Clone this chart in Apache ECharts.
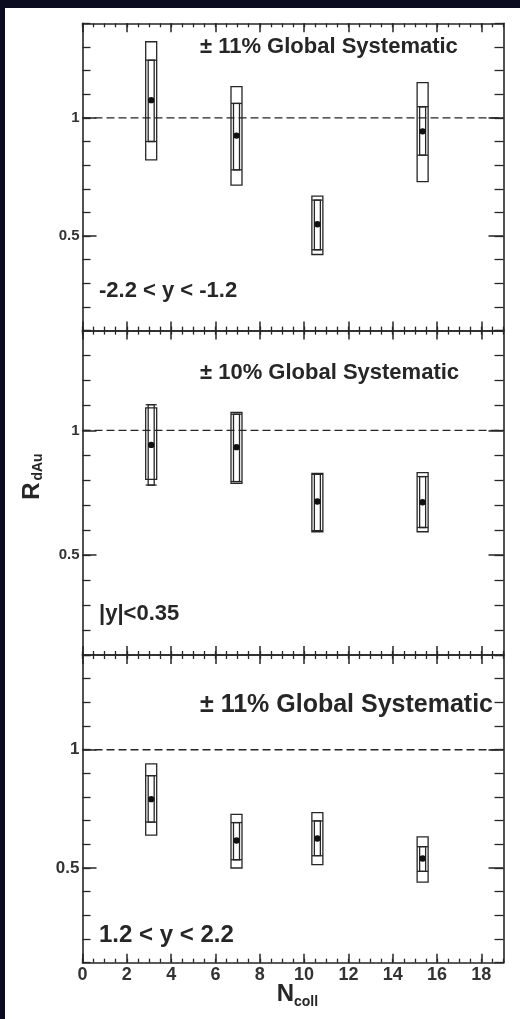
<!DOCTYPE html>
<html>
<head>
<meta charset="utf-8">
<script src="https://cdn.jsdelivr.net/npm/echarts@6/dist/echarts.min.js"></script>
<style>
  html, body { margin: 0; padding: 0; background: #0b0c20; }
  #paper { position: absolute; left: 5px; top: 8px; width: 515px; height: 1011px; background: #ffffff; }
  #chart { position: absolute; left: 0; top: 0; width: 520px; height: 1019px; }
</style>
</head>
<body>
<div id="paper"></div>
<div id="chart"></div>
<script>
// ---------------- data ----------------
const X_MIN = 0, X_MAX = 19;
const Y_MIN = 0.1, Y_MAX = 1.4;
const X_TICKS = [0, 2, 4, 6, 8, 10, 12, 14, 16, 18];
const Y_TICKS = [0.5, 1];
const UNITY = 1;
const NCOLL = [3.1, 6.95, 10.6, 15.35];

const GLOBAL_SYST = ['± 11% Global Systematic', '± 10% Global Systematic', '± 11% Global Systematic'];
const RAPIDITY = ['-2.2 < y < -1.2', '|y|<0.35', '1.2 < y < 2.2'];

// panel 1 : -2.2 < y < -1.2
const RDAU_BWD      = [1.075, 0.925, 0.55, 0.943];
const STAT_LO_BWD   = [0.90, 0.78, 0.442, 0.842];
const STAT_HI_BWD   = [1.244, 1.061, 0.652, 1.047];
const SYST_LO_BWD   = [0.822, 0.715, 0.422, 0.73];
const SYST_HI_BWD   = [1.322, 1.132, 0.669, 1.149];

// panel 2 : |y| < 0.35
const RDAU_MID      = [0.942, 0.933, 0.715, 0.712];
const STAT_LO_MID   = [0.781, 0.795, 0.598, 0.611];
const STAT_HI_MID   = [1.103, 1.065, 0.824, 0.815];
const SYST_LO_MID   = [0.804, 0.788, 0.594, 0.594];
const SYST_HI_MID   = [1.09, 1.072, 0.828, 0.831];

// panel 3 : 1.2 < y < 2.2
const RDAU_FWD      = [0.791, 0.616, 0.625, 0.54];
const STAT_LO_FWD   = [0.694, 0.535, 0.552, 0.486];
const STAT_HI_FWD   = [0.89, 0.692, 0.699, 0.59];
const SYST_LO_FWD   = [0.639, 0.5, 0.514, 0.44];
const SYST_HI_FWD   = [0.94, 0.727, 0.734, 0.632];

const PANELS = [
  [RDAU_BWD, STAT_LO_BWD, STAT_HI_BWD, SYST_LO_BWD, SYST_HI_BWD],
  [RDAU_MID, STAT_LO_MID, STAT_HI_MID, SYST_LO_MID, SYST_HI_MID],
  [RDAU_FWD, STAT_LO_FWD, STAT_HI_FWD, SYST_LO_FWD, SYST_HI_FWD]
];

// ---------------- layout / style ----------------
const FONT = '"Liberation Sans", Arial, Helvetica, sans-serif';
const INK = '#262626';
const GRIDS = [
  { top: 23.3, height: 307.3 },
  { top: 330.6, height: 324.4 },
  { top: 655, height: 307.7 }
];
const GRID_LEFT = 82.5, GRID_WIDTH = 421;
const Y_LABEL_SIZE = [15, 15, 17];
const TITLE_SIZE = [22, 22, 25];
const TITLE_Y = [47.3, 372.7, 705];
const RAP_SIZE = [22, 22, 24];
const RAP_Y = [291, 614, 935.3];

const chart = echarts.init(document.getElementById('chart'), null, { renderer: 'canvas' });

const grid = [], xAxis = [], yAxis = [], series = [], graphic = [];

function axisLineStyle() { return { show: true, onZero: false, lineStyle: { color: INK, width: 1.6 } }; }

GRIDS.forEach((g, gi) => {
  grid.push({ left: GRID_LEFT, top: g.top, width: GRID_WIDTH, height: g.height,
              containLabel: false, outerBoundsMode: 'none', show: false });
  ['bottom', 'top'].forEach(pos => {
    const showLabel = (gi === 2 && pos === 'bottom');
    xAxis.push({
      type: 'value', gridIndex: gi, position: pos, min: X_MIN, max: X_MAX,
      axisLine: axisLineStyle(),
      axisTick: { show: true, inside: true, length: 9, customValues: X_TICKS, lineStyle: { color: INK, width: 1.5 } },
      axisLabel: showLabel ? { show: true, customValues: X_TICKS, margin: 3, color: '#333',
                               fontFamily: FONT, fontWeight: 'bold', fontSize: 18 } : { show: false },
      splitLine: { show: false }
    });
    xAxis.push({
      type: 'value', gridIndex: gi, position: pos, min: X_MIN, max: X_MAX, interval: 0.5,
      axisLine: { show: false, onZero: false },
      axisTick: { show: true, inside: true, length: 4, lineStyle: { color: INK, width: 1.3 } },
      axisLabel: { show: false }, splitLine: { show: false }
    });
  });
  ['left', 'right'].forEach(pos => {
    const left = pos === 'left';
    yAxis.push({
      type: 'value', gridIndex: gi, position: pos, min: Y_MIN, max: Y_MAX,
      axisLine: axisLineStyle(),
      axisTick: { show: true, inside: true, length: left ? 14 : 15, customValues: Y_TICKS, lineStyle: { color: INK, width: 1.5 } },
      axisLabel: left ? { show: true, customValues: Y_TICKS, margin: 3, color: '#333',
                          fontFamily: FONT, fontWeight: 'bold', fontSize: Y_LABEL_SIZE[gi],
                          formatter: v => String(v) } : { show: false },
      splitLine: { show: false }
    });
    yAxis.push({
      type: 'value', gridIndex: gi, position: pos, min: Y_MIN, max: Y_MAX, interval: 0.1,
      axisLine: { show: false, onZero: false },
      axisTick: { show: true, inside: true, length: left ? 8 : 9, lineStyle: { color: INK, width: 1.3 } },
      axisLabel: { show: false }, splitLine: { show: false }
    });
  });

  // reference line at R = 1
  series.push({
    type: 'line', xAxisIndex: 4 * gi, yAxisIndex: 4 * gi, silent: true,
    data: [[X_MIN, UNITY], [X_MAX, UNITY]], symbol: 'none',
    lineStyle: { color: INK, width: 1.4, type: [8, 4] }, z: 2
  });

  // points with stat bars and systematic boxes
  const [val, sLo, sHi, yLo, yHi] = PANELS[gi];
  const data = NCOLL.map((x, i) => [x, val[i], sLo[i], sHi[i], yLo[i], yHi[i]]);
  series.push({
    type: 'custom', xAxisIndex: 4 * gi, yAxisIndex: 4 * gi, z: 5,
    data: data,
    renderItem: function (params, api) {
      const x = api.value(0);
      const c = api.coord([x, api.value(1)]);
      const st = api.coord([x, api.value(3)])[1];
      const sb = api.coord([x, api.value(2)])[1];
      const yt = api.coord([x, api.value(5)])[1];
      const yb = api.coord([x, api.value(4)])[1];
      const bw = 5.5, iw = 3;
      const stroke = { fill: 'none', stroke: INK, lineWidth: 1.3 };
      return {
        type: 'group',
        children: [
          { type: 'rect', shape: { x: c[0] - bw, y: yt, width: 2 * bw, height: yb - yt }, style: stroke },
          { type: 'rect', shape: { x: c[0] - iw, y: st, width: 2 * iw, height: sb - st }, style: stroke },
          { type: 'line', shape: { x1: c[0] - bw, y1: st, x2: c[0] + bw, y2: st }, style: { stroke: INK, lineWidth: 1.3 } },
          { type: 'line', shape: { x1: c[0] - bw, y1: sb, x2: c[0] + bw, y2: sb }, style: { stroke: INK, lineWidth: 1.3 } },
          { type: 'circle', shape: { cx: c[0], cy: c[1], r: 3.2 }, style: { fill: '#111' } }
        ]
      };
    }
  });

  graphic.push({
    type: 'text', left: 200, top: TITLE_Y[gi] - TITLE_SIZE[gi] / 2,
    style: { text: GLOBAL_SYST[gi], fill: '#262626', font: 'bold ' + TITLE_SIZE[gi] + 'px ' + FONT }
  });
  graphic.push({
    type: 'text', left: 99, top: RAP_Y[gi] - RAP_SIZE[gi] / 2,
    style: { text: RAPIDITY[gi], fill: '#262626', font: 'bold ' + RAP_SIZE[gi] + 'px ' + FONT }
  });
});

// axis titles
graphic.push({
  type: 'text', x: 32, y: 491, rotation: Math.PI / 2,
  style: { text: 'R', fill: '#262626', font: 'bold 24px ' + FONT, align: 'center', verticalAlign: 'middle' }
});
graphic.push({
  type: 'text', x: 38.5, y: 467, rotation: Math.PI / 2,
  style: { text: 'dAu', fill: '#262626', font: 'bold 14px ' + FONT, align: 'center', verticalAlign: 'middle' }
});
graphic.push({
  type: 'text', x: 285.5, y: 994,
  style: { text: 'N', fill: '#262626', font: 'bold 24px ' + FONT, align: 'center', verticalAlign: 'middle' }
});
graphic.push({
  type: 'text', x: 294, y: 1002,
  style: { text: 'coll', fill: '#262626', font: 'bold 14px ' + FONT, align: 'left', verticalAlign: 'middle' }
});

chart.setOption({
  animation: false,
  backgroundColor: 'transparent',
  grid, xAxis, yAxis, series, graphic
});
</script>
</body>
</html>
